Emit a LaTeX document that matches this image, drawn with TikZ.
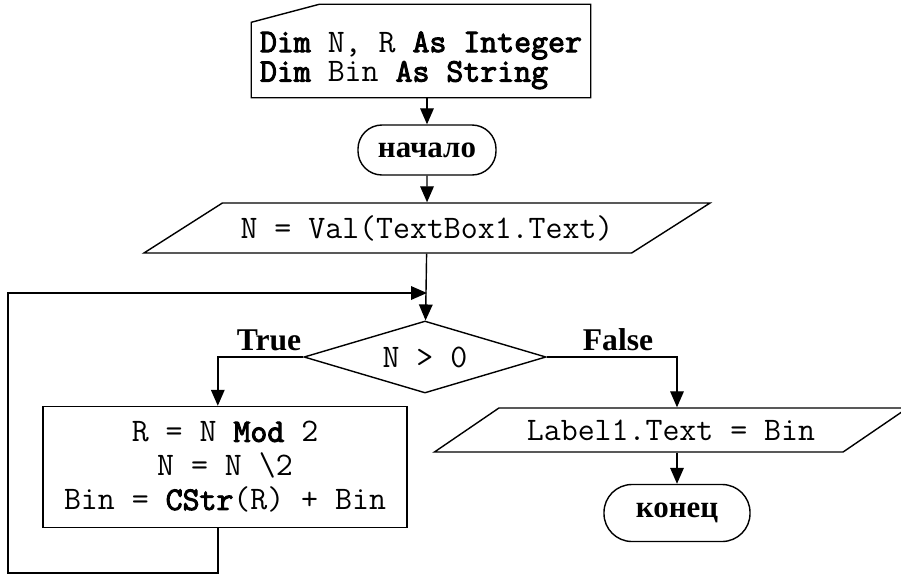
\documentclass[tikz,border=0pt]{standalone}
\usepackage{fontspec}
\setmainfont{Liberation Serif}
\newfontfamily\codefont{Latin Modern Mono}[BoldFont=Latin Modern Mono,BoldFeatures={FakeBold=3}]
\usetikzlibrary{shapes.geometric,arrows.meta}

\begin{document}
\begin{tikzpicture}[x=.025cm,y=-.025cm,line width=1pt,
  code/.style={font=\codefont\fontsize{23.4}{#1}\selectfont},code/.default=24.2,
  term/.style={draw,rounded corners=.6cm,minimum width=3.45cm,minimum height=1.25cm,
    font=\bfseries\fontsize{22}{24}\selectfont},
  io/.style={draw,trapezium,trapezium left angle=24,trapezium right angle=156,
    trapezium stretches body,code},
  arr/.style={-{Triangle[length=.4cm,width=.34cm]}},
  lab/.style={font=\bfseries\fontsize{22.5}{24}\selectfont}]
\useasboundingbox (0,0) rectangle (901,575);
% declarations
\node[code=21,align=left,minimum width=8.45cm,minimum height=2.3cm] (decl) at (421,51)
  {\rule{0pt}{.98cm}\textbf{Dim} N, R \textbf{As Integer}\\\textbf{Dim} Bin \textbf{As String}};
\draw (decl.south west) -- ([yshift=-.45cm]decl.north west) -- ([xshift=1.7cm]decl.north west)
  -- (decl.north east) -- (decl.south east) -- cycle;
\node[term] (start) at (427,150) {начало};
\node[io,minimum width=14.15cm,minimum height=1.25cm] (inp) at (427,228) {N = Val(TextBox1.Text)};
\node[draw,diamond,aspect=3.36,minimum width=6.05cm,minimum height=1.8cm,inner sep=0pt,code] (dec) at (425,357) {N > 0};
\node[draw,code,align=center,minimum width=9.1cm,minimum height=3.025cm] (proc) at (225,467)
  {R = N \textbf{Mod} 2\\N = N \textbackslash2\\Bin = \textbf{CStr}(R) + Bin};
\node[io,trapezium left angle=25,trapezium right angle=155,minimum width=11.825cm,minimum height=1.1cm] (out) at (671,430) {Label1.Text = Bin};
\node[term,minimum width=3.65cm,minimum height=1.425cm,rounded corners=.7cm] (stop) at (677,513) {конец};
\node[lab] (tl) at (269,340) {True};
\node[lab] (fl) at (618,340) {False};
% connectors
\coordinate (back) at (8,573);
\coordinate (join) at (427,293);
\draw[arr] (decl.south -| start) -- (start);
\draw[arr] (start) -- (inp);
\draw[arr] (inp) -- (dec);
\draw[arr] (dec.west) -| ([xshift=-.18cm]proc.north);
\draw[arr] (dec.east) -| (out.north -| stop);
\draw[arr] (out.south -| stop) -- (stop);
\draw[arr] ([xshift=-.18cm]proc.south) |- (back) |- (join);
\end{tikzpicture}
\end{document}
